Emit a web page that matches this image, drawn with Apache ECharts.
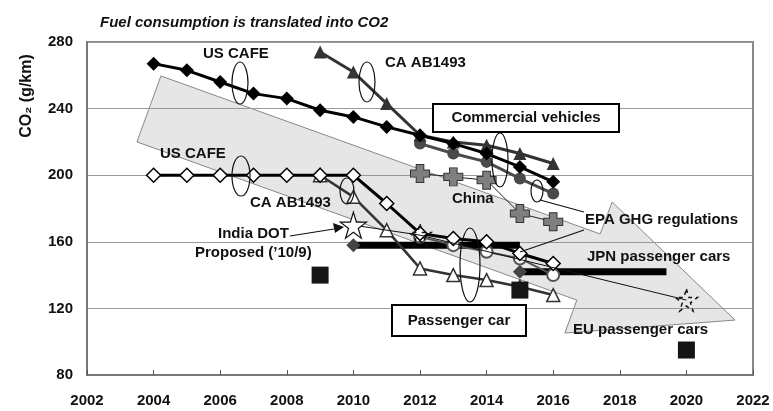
<!DOCTYPE html>
<html>
<head>
<meta charset="utf-8">
<script src="https://cdn.jsdelivr.net/npm/echarts@6/dist/echarts.min.js"></script>
<style>html,body{margin:0;padding:0;background:#fff}#c{width:773px;height:411px}</style>
</head>
<body>
<div id="c"></div>
<script>
// ---- data ----
const xTicks = [2002, 2004, 2006, 2008, 2010, 2012, 2014, 2016, 2018, 2020, 2022];
const yTicks = [80, 120, 160, 200, 240, 280];

// Commercial vehicles
const usCafeTruckYears = [2004, 2005, 2006, 2007, 2008, 2009, 2010, 2011, 2012, 2013, 2014, 2015, 2016];
const usCafeTruckCO2 = [267, 263, 256, 249, 246, 239, 235, 229, 224, 219, 213, 205, 196];
const caTruckYears = [2009, 2010, 2011, 2012, 2013, 2014, 2015, 2016];
const caTruckCO2 = [274, 262, 243, 224, 220, 218, 213, 207];
const epaTruckYears = [2012, 2013, 2014, 2015, 2016];
const epaTruckCO2 = [219, 213, 208, 198, 189];
const chinaYears = [2012, 2013, 2014, 2015, 2016];
const chinaCO2 = [201, 199, 197, 177, 172];

// Passenger cars
const usCafeCarYears = [2004, 2005, 2006, 2007, 2008, 2009, 2010, 2011, 2012, 2013, 2014, 2015, 2016];
const usCafeCarCO2 = [200, 200, 200, 200, 200, 200, 200, 183, 165, 162, 160, 153, 147];
const caCarYears = [2009, 2010, 2011, 2012, 2013, 2014, 2015, 2016];
const caCarCO2 = [200, 187, 167, 144, 140, 137, 133, 128];
const epaCarYears = [2012, 2013, 2014, 2015, 2016];
const epaCarCO2 = [163, 158, 154, 150, 140];
const indiaYears = [2010, 2012, 2020];
const indiaCO2 = [170, 164, 125];
const jpnYears = [2010, 2015];
const jpnCO2 = [158, 142];
const jpnPeriodEnd = [2015, 2019.4];
const euYears = [2009, 2015, 2020];
const euCO2 = [140, 131, 95];

// big background arrow outline (data coordinates)
const arrowYears = [2004.22, 2003.5, 2016.71, 2016.35, 2021.46, 2017.77, 2017.41];
const arrowCO2 = [259.6, 220, 125, 105.2, 113, 183.9, 164.7];

const pairs = (xs, ys) => xs.map((x, i) => [x, ys[i]]);
const FONT = '"Liberation Sans", Arial, sans-serif';

const chinaSymbol = 'path://M3,0 L7,0 L7,3 L10,3 L10,7 L7,7 L7,10 L3,10 L3,7 L0,7 L0,3 L3,3 Z';

const chart = echarts.init(document.getElementById('c'), null, {renderer: 'canvas'});

function txt(text, x, y, size, align, rotation) {
  const el = {
    type: 'text', x: x, y: y, z: 100,
    style: {text: text, fontFamily: FONT, fontWeight: 'bold', fontSize: size || 15,
      fill: '#111', align: align || 'left', verticalAlign: 'middle'}
  };
  if (rotation) el.rotation = rotation;
  return el;
}
function ell(cx, cy, rx, ry) {
  return {type: 'ellipse', z: 100, shape: {cx: cx, cy: cy, rx: rx, ry: ry},
    style: {fill: 'transparent', stroke: '#111', lineWidth: 1.2}};
}
function seg(x1, y1, x2, y2, w) {
  return {type: 'line', z: 100, shape: {x1: x1, y1: y1, x2: x2, y2: y2},
    style: {stroke: '#111', lineWidth: w || 1.2}};
}

const option = {
  backgroundColor: '#fff',
  animation: false,
  title: {
    text: 'Fuel consumption is translated into CO2',
    left: 95, top: 10,
    textStyle: {fontFamily: FONT, fontSize: 15, fontWeight: 'bold', fontStyle: 'italic', color: '#111'}
  },
  grid: {left: 87, right: 20, top: 42, bottom: 36, show: true, borderColor: '#888', borderWidth: 2},
  xAxis: {
    type: 'value', min: xTicks[0], max: xTicks[xTicks.length - 1], interval: 2,
    axisLine: {show: true, lineStyle: {color: '#777', width: 2}},
    axisTick: {show: true, inside: true, length: 5, lineStyle: {color: '#555'}},
    splitLine: {show: false},
    axisLabel: {margin: 18, color: '#111', fontFamily: FONT, fontWeight: 'bold', fontSize: 15,
      formatter: v => String(v)}
  },
  yAxis: {
    type: 'value', min: yTicks[0], max: yTicks[yTicks.length - 1], interval: 40,
    axisLine: {show: true, lineStyle: {color: '#777', width: 2}},
    axisTick: {show: false},
    splitLine: {show: true, lineStyle: {color: '#999', width: 1}},
    axisLabel: {margin: 14, color: '#111', fontFamily: FONT, fontWeight: 'bold', fontSize: 15}
  },
  series: [
    {
      type: 'custom', z: -1, silent: true,
      data: [0],
      renderItem: function (params, api) {
        const pts = arrowYears.map((x, i) => api.coord([x, arrowCO2[i]]));
        return {type: 'polygon', shape: {points: pts},
          style: {fill: '#e6e6e6', stroke: '#888', lineWidth: 1}};
      }
    },
    // JPN period bars
    {type: 'line', data: [[jpnYears[0], jpnCO2[0]], [jpnPeriodEnd[0], jpnCO2[0]]], symbol: 'none',
      lineStyle: {color: '#000', width: 7}, z: 3},
    {type: 'line', data: [[jpnYears[1], jpnCO2[1]], [jpnPeriodEnd[1], jpnCO2[1]]], symbol: 'none',
      lineStyle: {color: '#000', width: 7}, z: 3},
    // China
    {type: 'line', data: pairs(chinaYears, chinaCO2), symbol: chinaSymbol, symbolSize: [19, 18],
      lineStyle: {color: '#222', width: 1}, itemStyle: {color: '#7f7f7f', borderColor: '#333', borderWidth: 1}, z: 4},
    // EPA trucks
    {type: 'line', data: pairs(epaTruckYears, epaTruckCO2), symbol: 'circle', symbolSize: 12,
      lineStyle: {color: '#4a4a4a', width: 3}, itemStyle: {color: '#4a4a4a'}, z: 5},
    // CA trucks
    {type: 'line', data: pairs(caTruckYears, caTruckCO2), symbol: 'triangle', symbolSize: 13,
      lineStyle: {color: '#333', width: 3}, itemStyle: {color: '#333'}, z: 5},
    // US CAFE trucks
    {type: 'line', data: pairs(usCafeTruckYears, usCafeTruckCO2), symbol: 'diamond', symbolSize: 14,
      lineStyle: {color: '#000', width: 3}, itemStyle: {color: '#000'}, z: 6},
    // CA cars
    {type: 'line', data: pairs(caCarYears, caCarCO2), symbol: 'triangle', symbolSize: 13,
      lineStyle: {color: '#333', width: 2.5}, itemStyle: {color: '#fff', borderColor: '#333', borderWidth: 1.5}, z: 5},
    // EPA cars
    {type: 'line', data: pairs(epaCarYears, epaCarCO2), symbol: 'emptyCircle', symbolSize: 12,
      lineStyle: {color: '#555', width: 2}, itemStyle: {color: '#555', borderColor: '#555', borderWidth: 1.5}, z: 5},
    // US CAFE cars
    {type: 'line', data: pairs(usCafeCarYears, usCafeCarCO2), symbol: 'diamond', symbolSize: 14,
      lineStyle: {color: '#000', width: 3}, itemStyle: {color: '#fff', borderColor: '#000', borderWidth: 1.5}, z: 6},
    // India
    {type: 'line', data: pairs(indiaYears, indiaCO2).map((p, i) => ({
        value: p,
        symbolSize: i === 0 ? 26 : 22,
        itemStyle: i === 0 ? {color: '#fff', borderColor: '#111', borderWidth: 1.2}
                           : {color: 'rgba(255,255,255,0)', borderColor: '#111', borderWidth: 1.5, borderType: [4, 4]}
      })),
      symbol: 'path://M50,0 L61,35 L98,35 L68,57 L79,91 L50,70 L21,91 L32,57 L2,35 L39,35 Z',
      lineStyle: {color: '#111', width: 1}, z: 7},
    // JPN points
    {type: 'line', data: pairs(jpnYears, jpnCO2), symbol: 'diamond', symbolSize: 14,
      lineStyle: {width: 0, opacity: 0}, itemStyle: {color: '#444'}, z: 7},
    // EU
    {type: 'scatter', data: pairs(euYears, euCO2), symbol: 'rect', symbolSize: 17,
      itemStyle: {color: '#151515', opacity: 1}, z: 8}
  ],
  graphic: [
    txt('CO\u2082 (g/km)', 27, 96, 16, 'center', Math.PI / 2),
    txt('US CAFE', 203, 54),
    txt('CA AB1493', 385, 63),
    {type: 'rect', z: 99, shape: {x: 433, y: 104, width: 186, height: 28},
      style: {fill: '#fff', stroke: '#000', lineWidth: 2}},
    txt('Commercial vehicles', 526, 118, 15, 'center'),
    txt('US CAFE', 160, 154),
    txt('CA AB1493', 250, 203),
    txt('India DOT', 218, 234),
    txt('Proposed (\u201910/9)', 195, 253),
    txt('China', 452, 199),
    txt('EPA GHG regulations', 585, 220),
    txt('JPN passenger cars', 587, 257),
    {type: 'rect', z: 99, shape: {x: 392, y: 305, width: 134, height: 31},
      style: {fill: '#fff', stroke: '#000', lineWidth: 2}},
    txt('Passenger car', 459, 321, 15, 'center'),
    txt('EU passenger cars', 573, 330),
    ell(240, 83, 8, 21),
    ell(367, 82, 8, 20),
    ell(500, 160, 8, 27),
    ell(241, 176, 9, 20),
    ell(347, 191, 7, 13),
    ell(537, 191, 6, 11),
    ell(470, 265, 10, 37),
    seg(540, 200, 584, 212),
    seg(520, 252, 584, 230),
    seg(290, 236, 334, 229),
    {type: 'polygon', z: 100, shape: {points: [[344, 227], [333, 223], [335, 233]]}, style: {fill: '#111'}}
  ]
};
chart.setOption(option);
</script>
</body>
</html>
